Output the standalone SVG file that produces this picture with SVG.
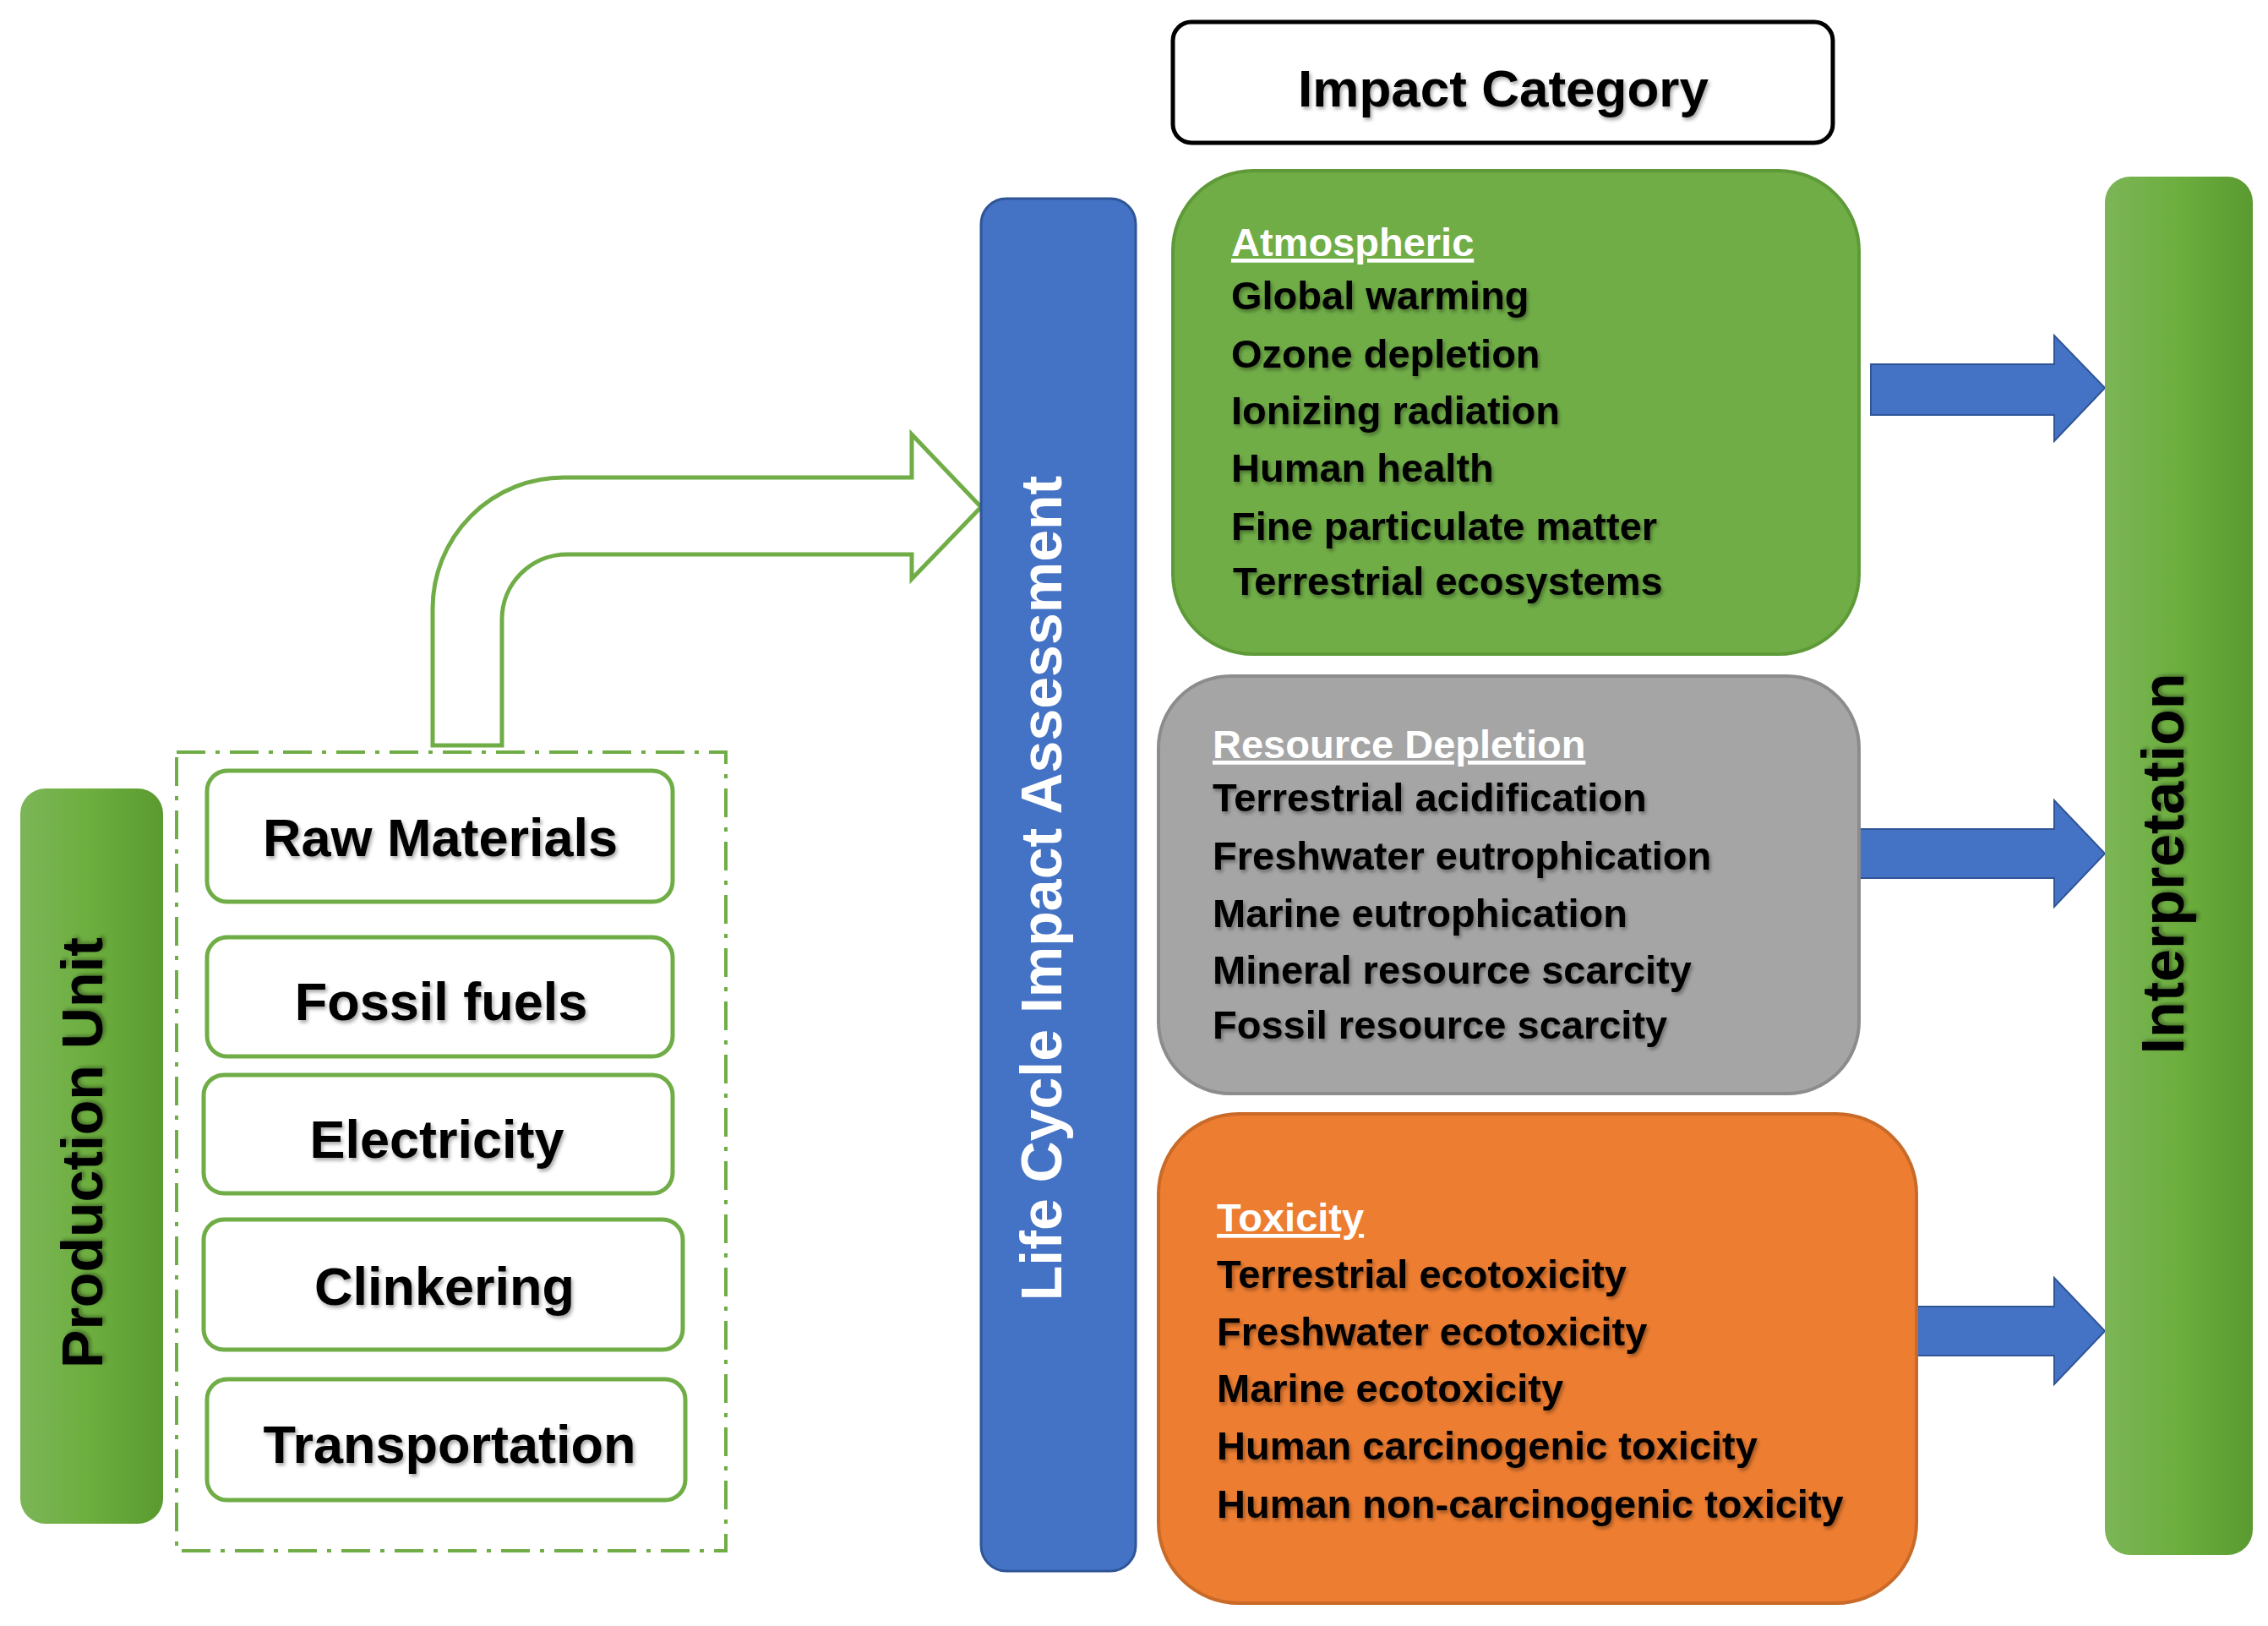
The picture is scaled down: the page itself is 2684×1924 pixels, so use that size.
<svg xmlns="http://www.w3.org/2000/svg" width="2684" height="1924" viewBox="0 0 2684 1924">
<defs>
<linearGradient id="gbar" x1="0" y1="0" x2="1" y2="0"><stop offset="0" stop-color="#7cb557"/><stop offset="0.5" stop-color="#6cae3e"/><stop offset="1" stop-color="#5a9a30"/></linearGradient>
<filter id="sh" x="-5%" y="-20%" width="110%" height="140%"><feDropShadow dx="2" dy="3" stdDeviation="2" flood-color="#000" flood-opacity="0.35"/></filter>
</defs>
<style>
text{font-family:"Liberation Sans",Arial,sans-serif;font-weight:bold}
.it{font-size:63px;fill:#000;text-anchor:middle}
.ln{font-size:47px;fill:#000}
.hd{font-size:47px;fill:#fff;text-decoration:underline}
.item{fill:#fff;stroke:#70ad47;stroke-width:5}
.barr{fill:#4472c4;stroke:#2f5597;stroke-width:2}
</style>
<rect width="2684" height="1924" fill="#fff"/>
<g id="connectors">
<path d="M512,882 V720 A155,155 0 0 1 667,565 H1079 V514 L1161,600 L1079,685 V656 H671 A77,77 0 0 0 594,733 V882 Z" fill="#fff" stroke="#70ad47" stroke-width="5" stroke-linejoin="miter"/>
<path class="barr" d="M2214,431 H2431 V397 L2491,459 L2431,522 V491 H2214 Z"/>
<path class="barr" d="M2200,981 H2431 V947 L2491,1010 L2431,1073 V1039 H2200 Z"/>
<path class="barr" d="M2268,1546 H2431 V1512 L2491,1575 L2431,1638 V1604 H2268 Z"/>
</g>
<g id="production-unit">
<rect x="24" y="933" width="169" height="870" rx="30" fill="url(#gbar)"/>
<text transform="translate(121,1364) rotate(-90)" font-size="68" fill="#000" text-anchor="middle" filter="url(#sh)">Production Unit</text>
</g>
<g id="inputs-group">
<rect x="209" y="890" width="650" height="945" fill="none" stroke="#70ad47" stroke-width="4" stroke-dasharray="34,12,5,12"/>
</g>
<g id="raw-materials"><rect class="item" x="245" y="912" width="551" height="155" rx="24"/><text class="it" x="521" y="1013" filter="url(#sh)">Raw Materials</text></g>
<g id="fossil-fuels"><rect class="item" x="245" y="1109" width="551" height="141" rx="24"/><text class="it" x="522" y="1207" filter="url(#sh)">Fossil fuels</text></g>
<g id="electricity"><rect class="item" x="241" y="1272" width="555" height="140" rx="24"/><text class="it" x="517" y="1370" filter="url(#sh)">Electricity</text></g>
<g id="clinkering"><rect class="item" x="241" y="1443" width="567" height="154" rx="24"/><text class="it" x="526" y="1544" filter="url(#sh)">Clinkering</text></g>
<g id="transportation"><rect class="item" x="245" y="1632" width="566" height="143" rx="24"/><text class="it" x="532" y="1731" filter="url(#sh)">Transportation</text></g>
<g id="lcia">
<rect x="1161" y="235" width="183" height="1624" rx="30" fill="#4472c4" stroke="#2f5597" stroke-width="3"/>
<text transform="translate(1256,1051) rotate(-90)" font-size="68" fill="#fff" text-anchor="middle">Life Cycle Impact Assessment</text>
</g>
<g id="impact-category">
<rect x="1388" y="26" width="781" height="143" rx="22" fill="#fff" stroke="#000" stroke-width="5"/>
<text x="1779" y="126" font-size="62" fill="#000" text-anchor="middle" filter="url(#sh)">Impact Category</text>
</g>
<g id="atmospheric">
<rect x="1388" y="202" width="812" height="572" rx="95" fill="#70ad47" stroke="#5e9a38" stroke-width="4"/>
<text class="hd" x="1457" y="303">Atmospheric</text>
<g filter="url(#sh)">
<text class="ln" x="1457" y="366">Global warming</text>
<text class="ln" x="1457" y="435">Ozone depletion</text>
<text class="ln" x="1457" y="502">Ionizing radiation</text>
<text class="ln" x="1457" y="570">Human health</text>
<text class="ln" x="1457" y="639">Fine particulate matter</text>
<text class="ln" x="1459" y="704">Terrestrial ecosystems</text>
</g>
</g>
<g id="resource-depletion">
<rect x="1371" y="800" width="829" height="494" rx="85" fill="#a5a5a5" stroke="#8c8c8c" stroke-width="4"/>
<text class="hd" x="1435" y="897">Resource Depletion</text>
<g filter="url(#sh)">
<text class="ln" x="1435" y="960">Terrestrial acidification</text>
<text class="ln" x="1435" y="1029">Freshwater eutrophication</text>
<text class="ln" x="1435" y="1097">Marine eutrophication</text>
<text class="ln" x="1435" y="1164">Mineral resource scarcity</text>
<text class="ln" x="1435" y="1229">Fossil resource scarcity</text>
</g>
</g>
<g id="toxicity">
<rect x="1371" y="1318" width="897" height="579" rx="95" fill="#ed7d31" stroke="#c96a28" stroke-width="4"/>
<text class="hd" x="1440" y="1457">Toxicity</text>
<g filter="url(#sh)">
<text class="ln" x="1440" y="1524">Terrestrial ecotoxicity</text>
<text class="ln" x="1440" y="1592">Freshwater ecotoxicity</text>
<text class="ln" x="1440" y="1659">Marine ecotoxicity</text>
<text class="ln" x="1440" y="1727">Human carcinogenic toxicity</text>
<text class="ln" x="1440" y="1796">Human non-carcinogenic toxicity</text>
</g>
</g>
<g id="interpretation">
<rect x="2491" y="209" width="175" height="1631" rx="30" fill="url(#gbar)"/>
<text transform="translate(2584,1022) rotate(-90)" font-size="70" fill="#000" text-anchor="middle" filter="url(#sh)">Interpretation</text>
</g>
</svg>
